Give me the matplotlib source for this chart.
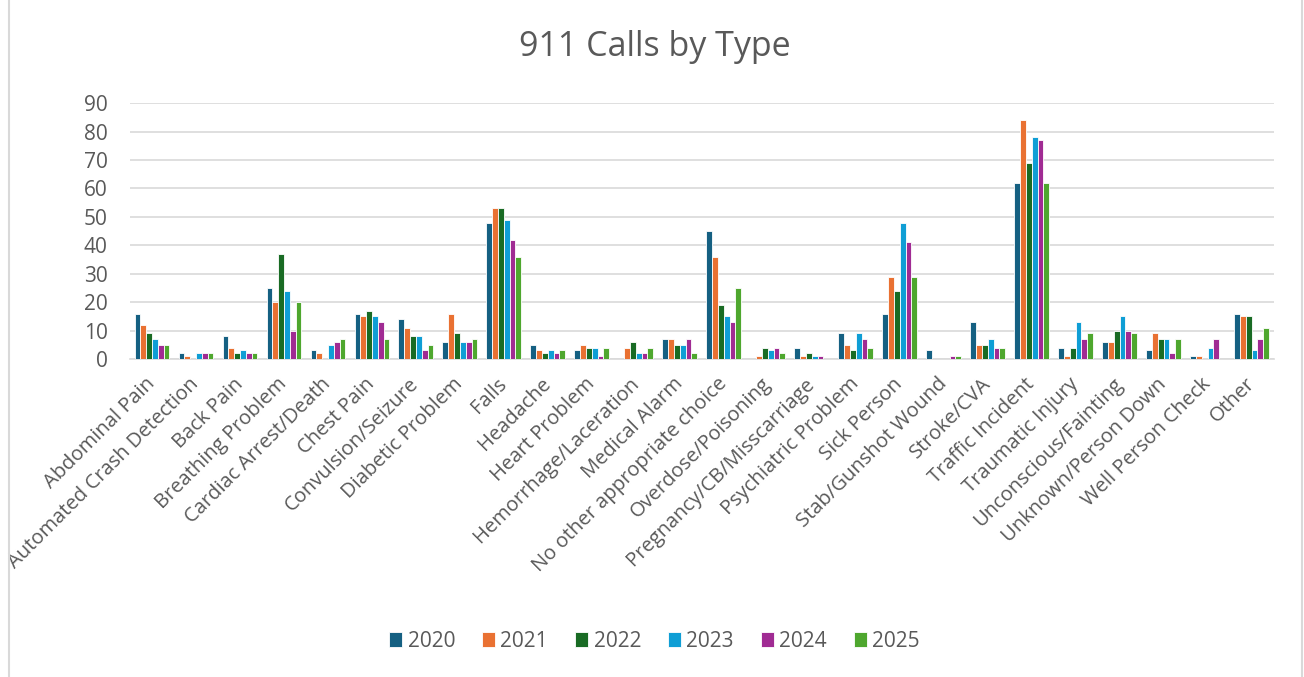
import numpy as np
import matplotlib.pyplot as plt
from matplotlib.patches import Rectangle

plt.rcParams['font.family'] = ['Open Sans', 'DejaVu Sans']

categories = ['Abdominal Pain', 'Automated Crash Detection', 'Back Pain',
              'Breathing Problem', 'Cardiac Arrest/Death', 'Chest Pain',
              'Convulsion/Seizure', 'Diabetic Problem', 'Falls', 'Headache',
              'Heart Problem', 'Hemorrhage/Laceration', 'Medical Alarm',
              'No other appropriate choice', 'Overdose/Poisoning',
              'Pregnancy/CB/Misscarriage', 'Psychiatric Problem', 'Sick Person',
              'Stab/Gunshot Wound', 'Stroke/CVA', 'Traffic Incident',
              'Traumatic Injury', 'Unconscious/Fainting', 'Unknown/Person Down',
              'Well Person Check', 'Other']

years = ['2020', '2021', '2022', '2023', '2024', '2025']

calls_2020 = [16, 2, 8, 25, 3, 16, 14, 6, 48, 5, 3, 0, 7, 45, 0, 4, 9, 16, 3, 13, 62, 4, 6, 3, 1, 16]
calls_2021 = [12, 1, 4, 20, 2, 15, 11, 16, 53, 3, 5, 4, 7, 36, 1, 1, 5, 29, 0, 5, 84, 1, 6, 9, 1, 15]
calls_2022 = [9, 0, 2, 37, 0, 17, 8, 9, 53, 2, 4, 6, 5, 19, 4, 2, 3, 24, 0, 5, 69, 4, 10, 7, 0, 15]
calls_2023 = [7, 2, 3, 24, 5, 15, 8, 6, 49, 3, 4, 2, 5, 15, 3, 1, 9, 48, 0, 7, 78, 13, 15, 7, 4, 3]
calls_2024 = [5, 2, 2, 10, 6, 13, 3, 6, 42, 2, 1, 2, 7, 13, 4, 1, 7, 41, 1, 4, 77, 7, 10, 2, 7, 7]
calls_2025 = [5, 2, 2, 20, 7, 7, 5, 7, 36, 3, 4, 4, 2, 25, 2, 0, 4, 29, 1, 4, 62, 9, 9, 7, 0, 11]

series = [calls_2020, calls_2021, calls_2022, calls_2023, calls_2024, calls_2025]
colors = ['#156082', '#E97132', '#196B24', '#0F9ED5', '#A02B93', '#4EA72E']
txt = '#595959'

fig = plt.figure(figsize=(13.04, 6.77), dpi=100)
ax = fig.add_axes([0.0997, 0.4697, 0.877, 0.378])

x = np.arange(len(categories))
width = 0.132
for i, (vals, col, yr) in enumerate(zip(series, colors, years)):
    offs = (i - 2.5) * width
    ax.bar(x + offs, vals, width, color=col, edgecolor='white', linewidth=0.6, label=yr, zorder=3)

ax.set_xlim(-0.5, len(categories) - 0.5)
ax.set_ylim(0, 90)
ax.set_yticks(range(0, 91, 10))
ax.grid(axis='y', color='#d9d9d9', linewidth=1.2, zorder=0)
for s in ['top', 'right', 'left']:
    ax.spines[s].set_visible(False)
ax.spines['bottom'].set_color('#d9d9d9')
ax.spines['bottom'].set_linewidth(1.2)
ax.tick_params(axis='both', length=0, colors=txt)
ax.tick_params(axis='y', labelsize=15, pad=16)
ax.set_xticks(x)
ax.set_xticklabels(categories, rotation=45, ha='right', va='center', rotation_mode='anchor')
ax.tick_params(axis='x', labelsize=14.5, pad=16)

fig.text(0.502, 0.93, '911 Calls by Type', ha='center', va='center', fontsize=24.5, color=txt)

ax.legend(loc='center', bbox_to_anchor=(0.502, 0.053), bbox_transform=fig.transFigure,
          ncol=6, frameon=False, fontsize=15, handlelength=0.63, handleheight=0.72,
          handletextpad=0.25, columnspacing=1.3, labelcolor=txt)

fig.patches.append(Rectangle((9 / 1304, -0.01), 1293 / 1304, 1.02, transform=fig.transFigure,
                             fill=False, edgecolor='#d9d9d9', linewidth=1.5))

fig.savefig('out.png', dpi=100, facecolor='white')
